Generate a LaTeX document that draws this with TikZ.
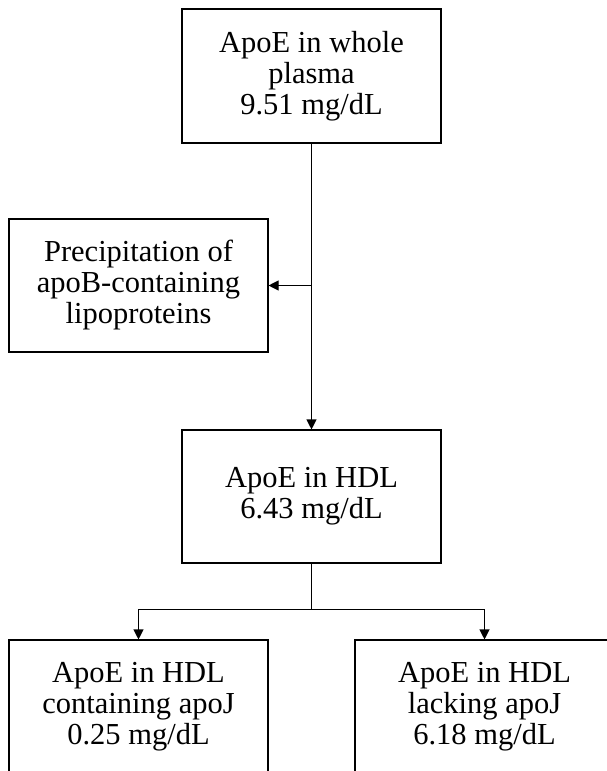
\documentclass[tikz,border=0pt]{standalone}
\usepackage{fontspec}
\setmainfont{Liberation Serif}
\usetikzlibrary{arrows.meta}

\begin{document}
\begin{tikzpicture}[x=1pt,y=-1pt,line width=1.1pt,
      >={Triangle[width=10pt,length=10pt]},
      box/.style={draw,align=center,inner sep=0pt,minimum width=259pt,minimum height=133pt,
        font=\fontsize{30.5}{31}\selectfont}]
      \useasboundingbox(0,0)rectangle(607,771);
      \node[box,minimum height=134pt](plasma)at(311.5,76){ApoE in whole\\plasma\\9.51 mg/dL};
      \node[box](precip)at(138.5,285.5){Precipitation of\\apoB-containing\\lipoproteins};
      \node[box](hdl)at(311.5,496.5){ApoE in HDL\\6.43 mg/dL};
      \node[box](withj)at(138.5,706.5){ApoE in HDL\\containing apoJ\\0.25 mg/dL};
      \node[box](withoutj)at(484.5,706.5){ApoE in HDL\\lacking apoJ\\6.18 mg/dL};
      % main stream
      \draw[->](plasma)--(hdl);
      \draw[->](plasma.south|-precip.east)--(precip.east);
      % split of HDL
      \draw(hdl.south)--++(0,46)coordinate(split);
      \draw[->](split)-|(withj);
      \draw[->](split)-|(withoutj);
    \end{tikzpicture}
\end{document}
